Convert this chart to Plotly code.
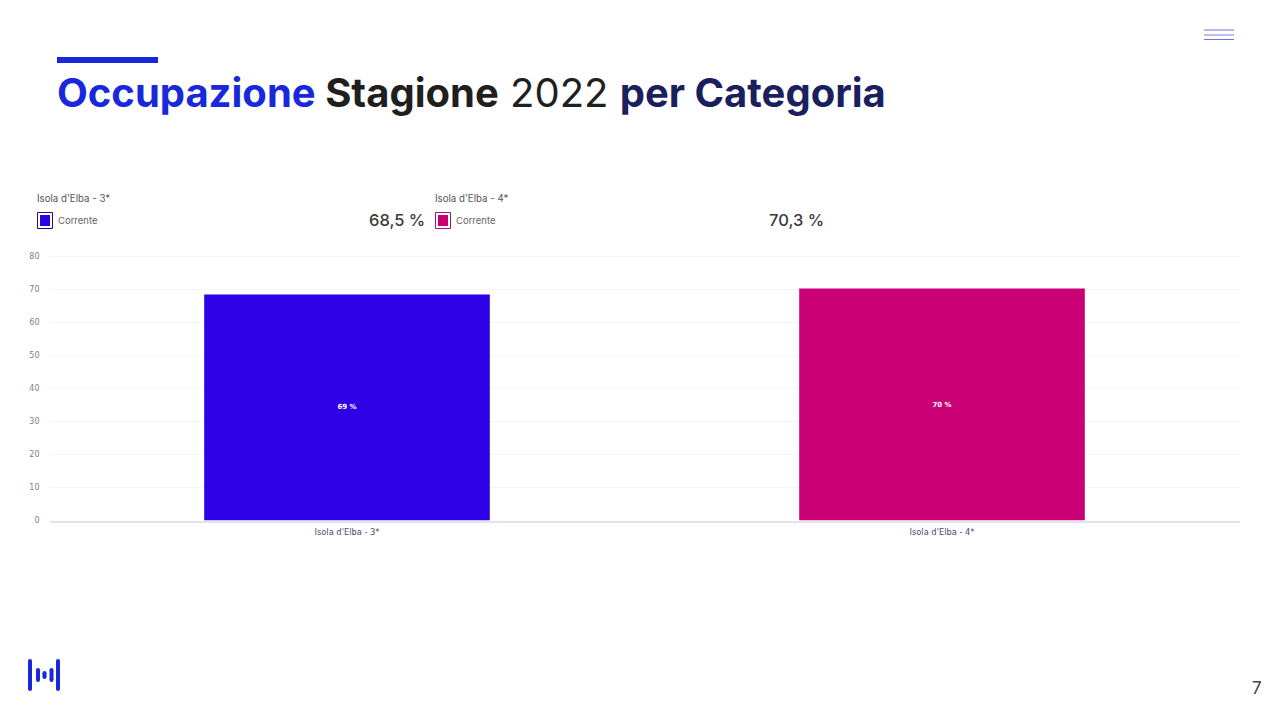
import plotly.graph_objects as go

PAGE_W = 1280
PAGE_H = 720

categories = ["Isola d'Elba - 3*", "Isola d'Elba - 4*"]
values = [68.5, 70.3]
bar_labels = ["69 %", "70 %"]
card_values = ["68,5 %", "70,3 %"]
series_name = "Corrente"
y_ticks = [0, 10, 20, 30, 40, 50, 60, 70, 80]
bar_colors = ["#2e00e6", "#c90076"]
swatch_borders = ["#1f0a8c", "#a3166f"]

BLUE = "#1a28dc"
NAVY = "#1c1f5e"
FONT = "Inter"


def px(x):
    return x / PAGE_W


def py(y):
    return 1 - y / PAGE_H


def label(fig, x, y, text, size, color, anchor="left", weight="normal"):
    fig.add_annotation(
        x=px(x),
        y=py(y),
        xref="paper",
        yref="paper",
        text=text,
        showarrow=False,
        xanchor=anchor,
        yanchor="middle",
        borderpad=0,
        font=dict(size=size, color=color, family=FONT, weight=weight),
    )


def rect(fig, x0, y0, x1, y1, fill, line=None, width=0, kind="rect"):
    fig.add_shape(
        type=kind,
        xref="paper",
        yref="paper",
        x0=px(x0),
        x1=px(x1),
        y0=py(y0),
        y1=py(y1),
        fillcolor=fill,
        line=dict(color=line, width=width) if line else dict(width=0),
    )


def stroke(fig, x0, y0, x1, y1, color, width):
    fig.add_shape(
        type="line",
        xref="paper",
        yref="paper",
        x0=px(x0),
        x1=px(x1),
        y0=py(y0),
        y1=py(y1),
        line=dict(color=color, width=width),
    )


def pill(fig, x, top, bottom, width, color):
    r = width / 2
    rect(fig, x - r, top + r, x + r, bottom - r, color)
    rect(fig, x - r, top, x + r, top + width, color, kind="circle")
    rect(fig, x - r, bottom - width, x + r, bottom, color, kind="circle")


fig = go.Figure(
    go.Bar(
        x=categories,
        y=values,
        width=0.48,
        marker=dict(color=bar_colors, line=dict(width=0)),
        text=bar_labels,
        textposition="inside",
        insidetextanchor="middle",
        textangle=0,
        textfont=dict(size=7, color="white", family="DejaVu Sans", weight="bold"),
        showlegend=False,
        hoverinfo="skip",
    )
)

# header
rect(fig, 57, 57, 158, 63, BLUE)
title = (
    f"<b><span style='color:{BLUE}'>Occupazione</span> "
    f"<span style='color:#1f1f1f'>Stagione</span></b> "
    f"<span style='color:#1f1f1f'>2022</span> "
    f"<b><span style='color:{NAVY}'>per Categoria</span></b>"
)
label(fig, 56, 92, title, 40, NAVY)

# menu icon, logo, page number
stroke(fig, 1204, 30, 1234, 30, "#6f74c4", 1)
stroke(fig, 1204, 35, 1234, 35, "#a4a8ea", 1.5)
stroke(fig, 1204, 39.5, 1234, 39.5, "#6f74c4", 1)
for x, top, bottom, width in [
    (30, 659, 691, 4),
    (38, 668, 682, 4),
    (44.5, 671, 679, 4),
    (51.5, 668, 682, 4),
    (58, 659, 691, 4),
]:
    pill(fig, x, top, bottom, width, BLUE)
label(fig, 1257, 688, "7", 17, "#444444", anchor="center")

# cards above the chart
for i, x in enumerate([37, 435]):
    label(fig, x - 1, 198, categories[i], 9.7, "#555555")
    rect(fig, x + 0.5, 212.5, x + 15.5, 228.5, "white", swatch_borders[i], 1)
    rect(fig, x + 3, 215, x + 13, 226, bar_colors[i])
    label(fig, x + 20, 220.5, series_name, 9.5, "#666666")
label(fig, 426, 220, card_values[0], 16.5, "#3a3a3a", anchor="right", weight=500)
label(fig, 825, 220, card_values[1], 16.5, "#3a3a3a", anchor="right", weight=500)

fig.update_xaxes(
    domain=[px(49.5), px(1239.5)],
    tickfont=dict(size=8.3, color="#4a4a6a", family="DejaVu Sans"),
    ticks="",
    ticklabelstandoff=3,
    showgrid=False,
    showline=True,
    linecolor="#e3e3ec",
    linewidth=1.5,
)
# range runs past 80 so the top gridline is not clipped off at the axis end
fig.update_yaxes(
    domain=[py(520.5), py(253.2)],
    range=[0, 81],
    tickvals=y_ticks,
    tickfont=dict(size=8, color="#808080", family="DejaVu Sans"),
    ticks="",
    ticklabelstandoff=9,
    showgrid=True,
    gridcolor="#f4f4f6",
    gridwidth=1,
    zeroline=False,
    showline=False,
)
fig.update_layout(
    width=PAGE_W,
    height=PAGE_H,
    margin=dict(l=0, r=0, t=0, b=0, autoexpand=False),
    paper_bgcolor="white",
    plot_bgcolor="white",
    bargap=0.52,
)

fig.write_html(
    "out.html",
    config={"displayModeBar": False},
    post_script="document.body.style.margin = '0';",
)
